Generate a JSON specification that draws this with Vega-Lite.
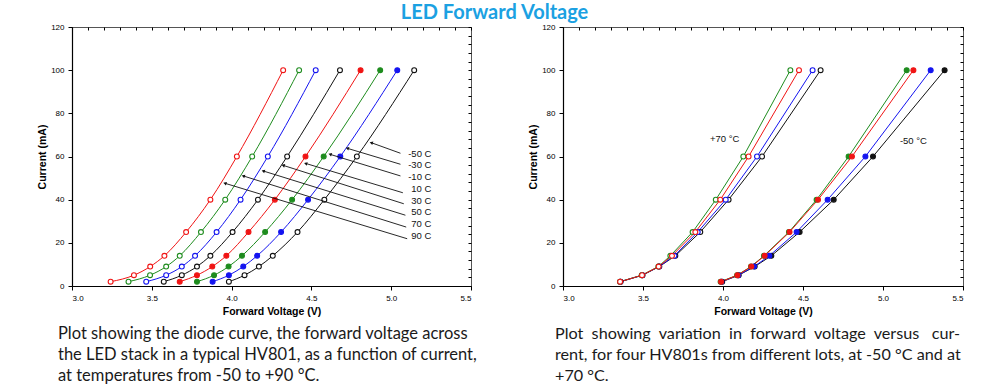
{
  "$schema": "https://vega.github.io/schema/vega-lite/v6.json",
  "padding": {"left": 37, "top": 2, "right": 0, "bottom": 0},
  "title": {"text": "LED Forward Voltage", "font": "Lato", "fontSize": 20, "fontWeight": "bold", "color": "#1ba1e2", "anchor": "middle", "offset": 0, "dx": -6},
  "spacing": 50,
  "resolve": {"scale": {"stroke": "independent", "fill": "independent"}},
  "datasets": {
    "curvesL": [
      {"t": "90 C", "i": 2, "v": 3.242}, {"t": "90 C", "i": 5, "v": 3.388}, {"t": "90 C", "i": 9, "v": 3.49}, {"t": "90 C", "i": 14, "v": 3.579}, {"t": "90 C", "i": 25, "v": 3.715}, {"t": "90 C", "i": 40, "v": 3.867}, {"t": "90 C", "i": 60, "v": 4.033}, {"t": "90 C", "i": 100, "v": 4.323},
      {"t": "70 C", "i": 2, "v": 3.354}, {"t": "70 C", "i": 5, "v": 3.489}, {"t": "70 C", "i": 9, "v": 3.59}, {"t": "70 C", "i": 14, "v": 3.675}, {"t": "70 C", "i": 25, "v": 3.808}, {"t": "70 C", "i": 40, "v": 3.96}, {"t": "70 C", "i": 60, "v": 4.129}, {"t": "70 C", "i": 100, "v": 4.423},
      {"t": "50 C", "i": 2, "v": 3.465}, {"t": "50 C", "i": 5, "v": 3.59}, {"t": "50 C", "i": 9, "v": 3.688}, {"t": "50 C", "i": 14, "v": 3.771}, {"t": "50 C", "i": 25, "v": 3.906}, {"t": "50 C", "i": 40, "v": 4.056}, {"t": "50 C", "i": 60, "v": 4.227}, {"t": "50 C", "i": 100, "v": 4.527},
      {"t": "30 C", "i": 2, "v": 3.575}, {"t": "30 C", "i": 5, "v": 3.688}, {"t": "30 C", "i": 9, "v": 3.783}, {"t": "30 C", "i": 14, "v": 3.867}, {"t": "30 C", "i": 25, "v": 4.006}, {"t": "30 C", "i": 40, "v": 4.165}, {"t": "30 C", "i": 60, "v": 4.348}, {"t": "30 C", "i": 100, "v": 4.679},
      {"t": "10 C", "i": 2, "v": 3.675}, {"t": "10 C", "i": 5, "v": 3.783}, {"t": "10 C", "i": 9, "v": 3.879}, {"t": "10 C", "i": 14, "v": 3.967}, {"t": "10 C", "i": 25, "v": 4.106}, {"t": "10 C", "i": 40, "v": 4.271}, {"t": "10 C", "i": 60, "v": 4.463}, {"t": "10 C", "i": 100, "v": 4.808},
      {"t": "-10 C", "i": 2, "v": 3.783}, {"t": "-10 C", "i": 5, "v": 3.89}, {"t": "-10 C", "i": 9, "v": 3.981}, {"t": "-10 C", "i": 14, "v": 4.065}, {"t": "-10 C", "i": 25, "v": 4.21}, {"t": "-10 C", "i": 40, "v": 4.379}, {"t": "-10 C", "i": 60, "v": 4.577}, {"t": "-10 C", "i": 100, "v": 4.931},
      {"t": "-30 C", "i": 2, "v": 3.881}, {"t": "-30 C", "i": 5, "v": 3.983}, {"t": "-30 C", "i": 9, "v": 4.073}, {"t": "-30 C", "i": 14, "v": 4.16}, {"t": "-30 C", "i": 25, "v": 4.31}, {"t": "-30 C", "i": 40, "v": 4.479}, {"t": "-30 C", "i": 60, "v": 4.681}, {"t": "-30 C", "i": 100, "v": 5.038},
      {"t": "-50 C", "i": 2, "v": 3.983}, {"t": "-50 C", "i": 5, "v": 4.081}, {"t": "-50 C", "i": 9, "v": 4.171}, {"t": "-50 C", "i": 14, "v": 4.258}, {"t": "-50 C", "i": 25, "v": 4.413}, {"t": "-50 C", "i": 40, "v": 4.581}, {"t": "-50 C", "i": 60, "v": 4.785}, {"t": "-50 C", "i": 100, "v": 5.144}
    ],
    "labelsL": [
      {"t": "-50 C", "lx": 5.252, "ly": 61.3, "x1": 5.058, "y1": 61.5, "x2": 4.875, "y2": 66.4},
      {"t": "-30 C", "lx": 5.252, "ly": 56.0, "x1": 5.058, "y1": 56.4, "x2": 4.725, "y2": 63.8},
      {"t": "-10 C", "lx": 5.252, "ly": 50.5, "x1": 5.058, "y1": 51.0, "x2": 4.617, "y2": 61.0},
      {"t": "10 C", "lx": 5.252, "ly": 44.9, "x1": 5.073, "y1": 43.2, "x2": 4.464, "y2": 56.8},
      {"t": "30 C", "lx": 5.252, "ly": 39.4, "x1": 5.079, "y1": 38.1, "x2": 4.323, "y2": 55.9},
      {"t": "50 C", "lx": 5.252, "ly": 34.1, "x1": 5.089, "y1": 32.8, "x2": 4.198, "y2": 53.3},
      {"t": "70 C", "lx": 5.252, "ly": 28.7, "x1": 5.094, "y1": 27.3, "x2": 4.073, "y2": 51.0},
      {"t": "90 C", "lx": 5.252, "ly": 23.2, "x1": 5.1, "y1": 21.9, "x2": 3.958, "y2": 47.6}
    ],
    "curvesR": [
      {"g": "+70", "lot": "D", "i": 2, "v": 3.36}, {"g": "+70", "lot": "D", "i": 5, "v": 3.497}, {"g": "+70", "lot": "D", "i": 9, "v": 3.602}, {"g": "+70", "lot": "D", "i": 14, "v": 3.702}, {"g": "+70", "lot": "D", "i": 25, "v": 3.858}, {"g": "+70", "lot": "D", "i": 40, "v": 4.035}, {"g": "+70", "lot": "D", "i": 60, "v": 4.244}, {"g": "+70", "lot": "D", "i": 100, "v": 4.61},
      {"g": "+70", "lot": "C", "i": 2, "v": 3.358}, {"g": "+70", "lot": "C", "i": 5, "v": 3.495}, {"g": "+70", "lot": "C", "i": 9, "v": 3.6}, {"g": "+70", "lot": "C", "i": 14, "v": 3.696}, {"g": "+70", "lot": "C", "i": 25, "v": 3.842}, {"g": "+70", "lot": "C", "i": 40, "v": 4.017}, {"g": "+70", "lot": "C", "i": 60, "v": 4.2125}, {"g": "+70", "lot": "C", "i": 100, "v": 4.56},
      {"g": "+70", "lot": "A", "i": 2, "v": 3.356}, {"g": "+70", "lot": "A", "i": 5, "v": 3.492}, {"g": "+70", "lot": "A", "i": 9, "v": 3.596}, {"g": "+70", "lot": "A", "i": 14, "v": 3.671}, {"g": "+70", "lot": "A", "i": 25, "v": 3.81}, {"g": "+70", "lot": "A", "i": 40, "v": 3.955}, {"g": "+70", "lot": "A", "i": 60, "v": 4.127}, {"g": "+70", "lot": "A", "i": 100, "v": 4.421},
      {"g": "+70", "lot": "B", "i": 2, "v": 3.357}, {"g": "+70", "lot": "B", "i": 5, "v": 3.494}, {"g": "+70", "lot": "B", "i": 9, "v": 3.598}, {"g": "+70", "lot": "B", "i": 14, "v": 3.681}, {"g": "+70", "lot": "B", "i": 25, "v": 3.827}, {"g": "+70", "lot": "B", "i": 40, "v": 3.983}, {"g": "+70", "lot": "B", "i": 60, "v": 4.16}, {"g": "+70", "lot": "B", "i": 100, "v": 4.475},
      {"g": "-50", "lot": "D", "i": 2, "v": 3.995}, {"g": "-50", "lot": "D", "i": 5, "v": 4.098}, {"g": "-50", "lot": "D", "i": 9, "v": 4.198}, {"g": "-50", "lot": "D", "i": 14, "v": 4.302}, {"g": "-50", "lot": "D", "i": 25, "v": 4.479}, {"g": "-50", "lot": "D", "i": 40, "v": 4.692}, {"g": "-50", "lot": "D", "i": 60, "v": 4.9375}, {"g": "-50", "lot": "D", "i": 100, "v": 5.385},
      {"g": "-50", "lot": "C", "i": 2, "v": 3.99}, {"g": "-50", "lot": "C", "i": 5, "v": 4.095}, {"g": "-50", "lot": "C", "i": 9, "v": 4.194}, {"g": "-50", "lot": "C", "i": 14, "v": 4.29}, {"g": "-50", "lot": "C", "i": 25, "v": 4.46}, {"g": "-50", "lot": "C", "i": 40, "v": 4.654}, {"g": "-50", "lot": "C", "i": 60, "v": 4.89}, {"g": "-50", "lot": "C", "i": 100, "v": 5.298},
      {"g": "-50", "lot": "A", "i": 2, "v": 3.985}, {"g": "-50", "lot": "A", "i": 5, "v": 4.088}, {"g": "-50", "lot": "A", "i": 9, "v": 4.175}, {"g": "-50", "lot": "A", "i": 14, "v": 4.256}, {"g": "-50", "lot": "A", "i": 25, "v": 4.412}, {"g": "-50", "lot": "A", "i": 40, "v": 4.585}, {"g": "-50", "lot": "A", "i": 60, "v": 4.785}, {"g": "-50", "lot": "A", "i": 100, "v": 5.148},
      {"g": "-50", "lot": "B", "i": 2, "v": 3.988}, {"g": "-50", "lot": "B", "i": 5, "v": 4.09}, {"g": "-50", "lot": "B", "i": 9, "v": 4.177}, {"g": "-50", "lot": "B", "i": 14, "v": 4.26}, {"g": "-50", "lot": "B", "i": 25, "v": 4.416}, {"g": "-50", "lot": "B", "i": 40, "v": 4.594}, {"g": "-50", "lot": "B", "i": 60, "v": 4.806}, {"g": "-50", "lot": "B", "i": 100, "v": 5.19}
    ],
    "labelsR": [
      {"t": "+70 °C", "lx": 4.01, "ly": 68.1},
      {"t": "-50 °C", "lx": 5.19, "ly": 67.2}
    ]
  },
  "hconcat": [
    {
      "width": 399,
      "height": 259,
      "title": {"text": ["Plot showing the diode curve, the forward voltage across", "the LED stack in a typical HV801, as a function of current,", "at temperatures from -50 to +90 °C."], "orient": "bottom", "anchor": "start", "frame": "group", "dx": -14, "offset": 9, "font": "Lato", "fontSize": 16.5, "fontWeight": "normal", "color": "#1a1a1a", "lineHeight": 21, "align": "left"},
      "resolve": {"axis": {"x": "independent", "y": "independent"}},
      "layer": [
        {
          "data": {"name": "curvesL"},
          "mark": {"type": "line", "interpolate": "monotone", "strokeWidth": 1},
          "encoding": {
            "x": {"field": "v", "type": "quantitative", "scale": {"domain": [3, 5.5], "nice": false, "zero": false}, "axis": {"values": [3, 3.5, 4, 4.5, 5, 5.5], "format": ".1f", "tickSize": 4, "labelPadding": 4, "title": "Forward Voltage (V)", "titlePadding": 4}},
            "y": {"field": "i", "type": "quantitative", "scale": {"domain": [0, 120], "nice": false}, "axis": {"values": [0, 20, 40, 60, 80, 100, 120], "tickSize": 4, "labelPadding": 4, "title": "Current (mA)", "titlePadding": 3}},
            "stroke": {"field": "t", "type": "nominal", "scale": {"domain": ["90 C", "70 C", "50 C", "30 C", "10 C", "-10 C", "-30 C", "-50 C"], "range": ["#f01414", "#1e8c1e", "#1414f0", "#111111", "#f01414", "#1e8c1e", "#1414f0", "#111111"]}, "legend": null},
            "order": {"field": "i", "type": "quantitative"}
          }
        },
        {
          "data": {"name": "curvesL"},
          "mark": {"type": "point", "shape": "circle", "filled": true, "size": 24, "strokeWidth": 1.1, "opacity": 1},
          "encoding": {
            "x": {"field": "v", "type": "quantitative", "axis": {"values": [3, 3.1, 3.2, 3.3, 3.4, 3.5, 3.6, 3.7, 3.8, 3.9, 4, 4.1, 4.2, 4.3, 4.4, 4.5, 4.6, 4.7, 4.8, 4.9, 5, 5.1, 5.2, 5.3, 5.4, 5.5], "tickSize": -3, "labels": false, "domain": false, "title": null}},
            "y": {"field": "i", "type": "quantitative", "axis": {"values": [0, 4, 8, 12, 16, 20, 24, 28, 32, 36, 40, 44, 48, 52, 56, 60, 64, 68, 72, 76, 80, 84, 88, 92, 96, 100, 104, 108, 112, 116, 120], "tickSize": -3, "labels": false, "domain": false, "title": null}},
            "stroke": {"field": "t", "type": "nominal", "legend": null},
            "fill": {"field": "t", "type": "nominal", "scale": {"domain": ["90 C", "70 C", "50 C", "30 C", "10 C", "-10 C", "-30 C", "-50 C"], "range": ["#ffffff", "#ffffff", "#ffffff", "#ffffff", "#f01414", "#1e8c1e", "#1414f0", "#ffffff"]}, "legend": null}
          }
        },
        {
          "data": {"name": "labelsL"},
          "mark": {"type": "rule", "color": "#111111", "strokeWidth": 0.9},
          "encoding": {
            "x": {"field": "x1", "type": "quantitative", "axis": null},
            "y": {"field": "y1", "type": "quantitative", "axis": null},
            "x2": {"field": "x2"},
            "y2": {"field": "y2"}
          }
        },
        {
          "data": {"name": "labelsL"},
          "mark": {"type": "point", "shape": "triangle-left", "angle": 18, "size": 14, "filled": true, "color": "#111111", "opacity": 1},
          "encoding": {
            "x": {"field": "x2", "type": "quantitative", "axis": null},
            "y": {"field": "y2", "type": "quantitative", "axis": null}
          }
        },
        {
          "data": {"name": "labelsL"},
          "mark": {"type": "text", "align": "right", "baseline": "middle", "fontSize": 9.5, "font": "Liberation Sans", "color": "#111111"},
          "encoding": {
            "x": {"field": "lx", "type": "quantitative", "axis": null},
            "y": {"field": "ly", "type": "quantitative", "axis": null},
            "text": {"field": "t"}
          }
        }
      ]
    },
    {
      "width": 400,
      "height": 259,
      "title": {"text": ["Plot\u00a0 showing\u00a0 variation\u00a0 in\u00a0 forward\u00a0 voltage\u00a0 versus\u00a0\u00a0 cur-", "rent, for four HV801s from different lots, at -50 °C and at", "+70 °C."], "orient": "bottom", "anchor": "start", "frame": "group", "dx": -8, "offset": 9, "font": "Lato", "fontSize": 16.2, "fontWeight": "normal", "color": "#1a1a1a", "lineHeight": 21, "align": "left"},
      "resolve": {"axis": {"x": "independent", "y": "independent"}},
      "layer": [
        {
          "data": {"name": "curvesR"},
          "mark": {"type": "line", "strokeWidth": 1},
          "encoding": {
            "x": {"field": "v", "type": "quantitative", "scale": {"domain": [3, 5.5], "nice": false, "zero": false}, "axis": {"values": [3, 3.5, 4, 4.5, 5, 5.5], "format": ".1f", "tickSize": 4, "labelPadding": 4, "title": "Forward Voltage (V)", "titlePadding": 4}},
            "y": {"field": "i", "type": "quantitative", "scale": {"domain": [0, 120], "nice": false}, "axis": {"values": [0, 20, 40, 60, 80, 100, 120], "tickSize": 4, "labelPadding": 4, "title": "Current (mA)", "titlePadding": 3}},
            "stroke": {"field": "lot", "type": "nominal", "scale": {"domain": ["A", "B", "C", "D"], "range": ["#1e8c1e", "#f01414", "#1414f0", "#111111"]}, "legend": null},
            "detail": {"field": "g", "type": "nominal"},
            "order": {"field": "i", "type": "quantitative"}
          }
        },
        {
          "data": {"name": "curvesR"},
          "transform": [{"filter": "datum.g == '+70'"}],
          "mark": {"type": "point", "shape": "circle", "filled": true, "size": 24, "strokeWidth": 1.1, "opacity": 1, "fill": "#ffffff"},
          "encoding": {
            "x": {"field": "v", "type": "quantitative", "axis": {"values": [3, 3.1, 3.2, 3.3, 3.4, 3.5, 3.6, 3.7, 3.8, 3.9, 4, 4.1, 4.2, 4.3, 4.4, 4.5, 4.6, 4.7, 4.8, 4.9, 5, 5.1, 5.2, 5.3, 5.4, 5.5], "tickSize": -3, "labels": false, "domain": false, "title": null}},
            "y": {"field": "i", "type": "quantitative", "axis": {"values": [0, 4, 8, 12, 16, 20, 24, 28, 32, 36, 40, 44, 48, 52, 56, 60, 64, 68, 72, 76, 80, 84, 88, 92, 96, 100, 104, 108, 112, 116, 120], "tickSize": -3, "labels": false, "domain": false, "title": null}},
            "stroke": {"field": "lot", "type": "nominal", "legend": null}
          }
        },
        {
          "data": {"name": "curvesR"},
          "transform": [{"filter": "datum.g == '-50'"}],
          "mark": {"type": "point", "shape": "circle", "filled": true, "size": 24, "strokeWidth": 1.1, "opacity": 1},
          "encoding": {
            "x": {"field": "v", "type": "quantitative", "axis": null},
            "y": {"field": "i", "type": "quantitative", "axis": null},
            "stroke": {"field": "lot", "type": "nominal", "legend": null},
            "fill": {"field": "lot", "type": "nominal", "scale": {"domain": ["A", "B", "C", "D"], "range": ["#1e8c1e", "#f01414", "#1414f0", "#111111"]}, "legend": null}
          }
        },
        {
          "data": {"name": "labelsR"},
          "mark": {"type": "text", "align": "center", "baseline": "middle", "fontSize": 9.5, "font": "Liberation Sans", "color": "#111111"},
          "encoding": {
            "x": {"field": "lx", "type": "quantitative", "axis": null},
            "y": {"field": "ly", "type": "quantitative", "axis": null},
            "text": {"field": "t"}
          }
        }
      ]
    }
  ],
  "config": {
    "view": {"stroke": "#555555", "strokeWidth": 1},
    "axis": {"grid": false, "domainColor": "#000000", "domainWidth": 1.2, "tickColor": "#000000", "tickWidth": 1, "labelColor": "#000000", "titleColor": "#000000", "labelFont": "Liberation Sans", "titleFont": "Liberation Sans", "labelFontSize": 8, "titleFontSize": 10.5, "titleFontWeight": "bold"}
  }
}
